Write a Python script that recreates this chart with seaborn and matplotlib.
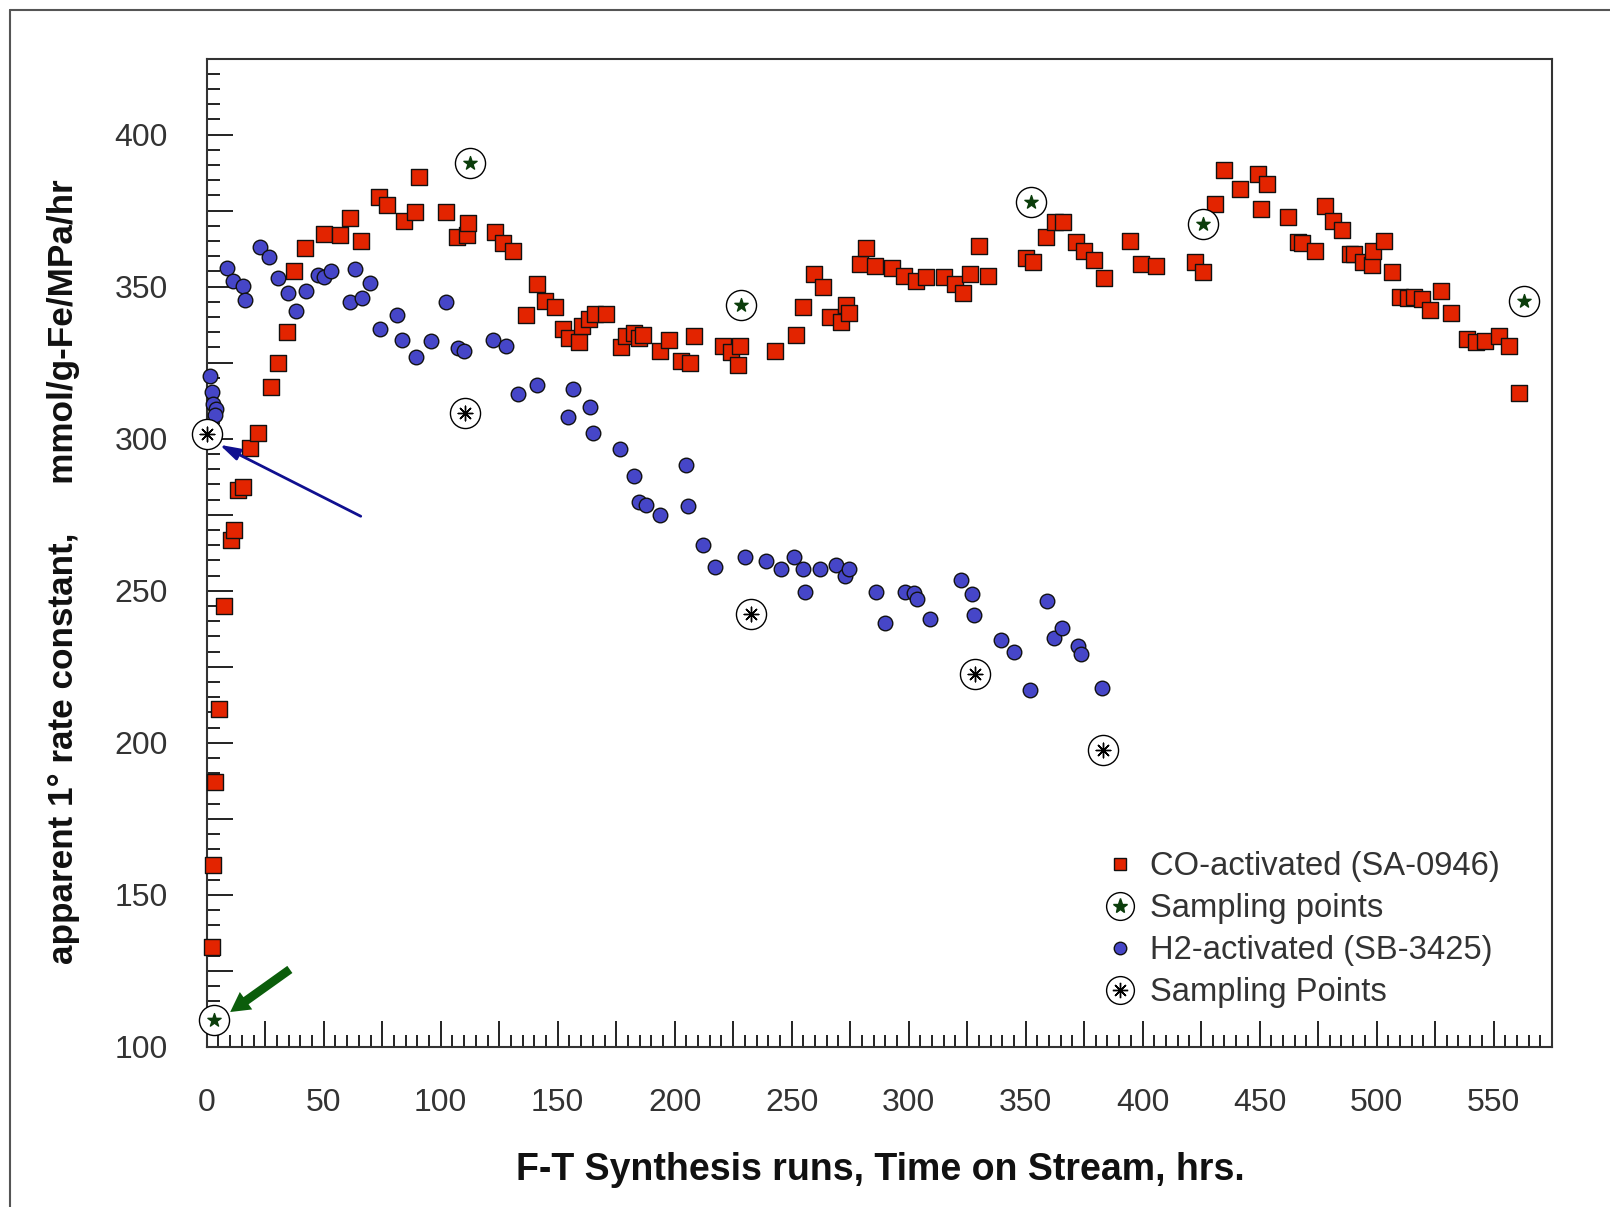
import numpy as np
import pandas as pd
import seaborn as sns
import matplotlib
matplotlib.use("Agg")
import matplotlib.pyplot as plt
from matplotlib.lines import Line2D
from matplotlib.ticker import MultipleLocator, FuncFormatter
from matplotlib.legend_handler import HandlerTuple

# CO-activated catalyst (SA-0946): time on stream (hrs) and rate constant
co_x = [2.2, 2.6, 3.5, 5.3, 7.5, 10.5, 11.8, 13.2, 15.4, 18.4, 21.9, 27.6, 30.3, 34.2,
        37.3, 42.1, 50.0, 57.0, 61.4, 65.8, 73.7, 77.2, 84.2, 89.0, 90.8, 102.2, 107.0,
        111.4, 111.8, 123.2, 126.8, 130.7, 136.4, 141.2, 144.7, 148.7, 152.2, 154.8,
        159.2, 160.5, 163.2, 165.8, 170.6, 177.2, 179.0, 182.5, 184.6, 186.4, 193.9,
        197.4, 202.6, 206.6, 208.3, 220.6, 224.1, 227.2, 228.1, 243.0, 251.8, 254.8,
        259.6, 263.2, 266.2, 271.0, 273.2, 274.6, 279.4, 281.6, 285.6, 293.0, 297.9,
        303.1, 307.5, 315.0, 319.8, 323.3, 326.4, 329.9, 333.9, 350.1, 353.2, 358.9,
        362.4, 365.9, 371.6, 375.1, 379.1, 383.5, 394.8, 399.3, 405.9, 422.6, 425.7,
        430.9, 434.9, 441.5, 449.4, 450.7, 453.3, 462.1, 466.5, 468.3, 473.5, 477.9,
        481.5, 485.4, 488.5, 490.2, 494.2, 498.2, 498.6, 503.0, 506.5, 510.0, 513.6,
        516.2, 519.3, 522.8, 527.6, 532.0, 538.6, 542.5, 546.5, 552.2, 556.6, 561.0]
co_y = [133.0, 160.0, 187.0, 211.0, 245.0, 266.8, 270.0, 283.0, 284.0, 297.0, 302.0,
        317.0, 325.0, 335.0, 355.0, 362.8, 367.4, 367.0, 372.5, 365.0, 379.5, 376.8,
        371.5, 374.5, 386.2, 374.5, 366.4, 367.0, 371.0, 367.8, 364.4, 361.7, 340.6,
        350.7, 345.3, 343.3, 336.2, 333.2, 331.9, 337.2, 339.3, 341.0, 341.0, 330.2,
        333.9, 334.9, 333.2, 334.2, 328.9, 332.6, 325.5, 324.8, 333.6, 330.5, 328.5,
        324.2, 330.5, 328.9, 334.2, 343.3, 354.0, 350.0, 339.9, 338.3, 344.0, 341.3,
        357.4, 362.8, 356.7, 356.0, 353.4, 351.7, 353.0, 353.0, 350.7, 348.0, 354.0,
        363.4, 353.4, 359.4, 358.1, 366.4, 371.1, 371.1, 364.8, 361.7, 358.7, 352.7,
        365.1, 357.4, 356.7, 358.1, 354.7, 377.2, 388.3, 382.2, 386.9, 375.5, 383.6,
        372.8, 364.8, 364.4, 361.7, 376.5, 371.5, 368.5, 360.7, 360.7, 358.1, 357.0,
        361.7, 365.1, 354.7, 346.6, 346.3, 346.6, 346.0, 342.3, 348.7, 341.3, 332.9,
        331.9, 332.2, 333.6, 330.5, 315.1]

# H2-activated catalyst (SB-3425)
h2_x = [1.2, 2.2, 2.6, 3.9, 3.5, 8.6, 11.4, 15.4, 16.2, 22.8, 26.8, 30.3, 34.7, 38.2,
        42.6, 47.4, 50.0, 53.1, 61.4, 63.2, 66.3, 69.8, 74.2, 81.2, 83.4, 89.5, 95.7,
        102.2, 107.5, 110.1, 122.4, 127.7, 133.0, 141.3, 154.5, 156.6, 163.7, 165.0,
        176.8, 182.5, 184.6, 187.7, 193.9, 204.8, 205.8, 211.9, 217.2, 229.9, 239.2,
        245.3, 251.0, 254.9, 255.8, 262.0, 269.0, 272.6, 274.7, 286.1, 290.0, 298.3,
        302.2, 303.5, 309.2, 322.4, 327.2, 328.1, 339.5, 345.2, 351.8, 359.2, 362.3,
        365.4, 372.4, 373.7, 382.5]
h2_y = [320.5, 315.4, 311.4, 309.7, 307.7, 356.0, 351.7, 350.3, 345.6, 363.1, 359.7,
        352.7, 348.0, 342.0, 348.7, 353.7, 353.0, 355.0, 345.0, 355.7, 346.3, 351.3,
        336.2, 340.6, 332.6, 326.8, 332.2, 345.0, 329.9, 328.9, 332.6, 330.5, 314.8,
        317.8, 307.0, 316.4, 310.4, 302.0, 296.6, 287.6, 279.2, 278.2, 274.8, 291.3,
        277.9, 265.1, 257.7, 261.1, 259.7, 257.0, 261.1, 257.0, 249.7, 257.0, 258.4,
        255.0, 257.0, 249.7, 239.3, 249.7, 249.3, 247.3, 240.6, 253.7, 249.0, 242.0,
        233.9, 229.9, 217.4, 246.6, 234.6, 237.6, 231.9, 229.2, 218.1]

# Sampling points for each run
co_samp_x = [3.1, 112.3, 228.5, 352.4, 425.7, 563.0]
co_samp_y = [109.0, 390.6, 344.0, 377.9, 370.5, 345.3]
h2_samp_x = [0.0, 110.5, 232.5, 328.5, 383.0]
h2_samp_y = [301.7, 308.4, 242.3, 222.5, 197.7]

legend_labels = ["CO-activated (SA-0946)", "Sampling points",
                 "H2-activated (SB-3425)", "Sampling Points"]

sns.set_theme(style="white")
plt.rcParams["font.family"] = ["Liberation Sans", "DejaVu Sans"]

W, H = 1610, 1207
fig = plt.figure(figsize=(W / 100, H / 100), dpi=100)
fig.patch.set_facecolor("white")
left, right, top, bottom = 206.8, 1552.0, 58.5, 1047.0
ax = fig.add_axes([left / W, 1 - bottom / H, (right - left) / W, (bottom - top) / H])

red = "#e32400"
blue = "#4646c8"
star_green = "#0b3d0b"

co_df = pd.DataFrame({"t": co_x, "k": co_y})
h2_df = pd.DataFrame({"t": h2_x, "k": h2_y})
cos_df = pd.DataFrame({"t": co_samp_x, "k": co_samp_y})
h2s_df = pd.DataFrame({"t": h2_samp_x, "k": h2_samp_y})

sns.scatterplot(data=h2_df, x="t", y="k", ax=ax, marker="o", s=110, color=blue,
                edgecolor="#111111", linewidth=1.0, zorder=3, clip_on=False, legend=False)
sns.scatterplot(data=co_df, x="t", y="k", ax=ax, marker="s", s=140, color=red,
                edgecolor="#111111", linewidth=1.0, zorder=4, clip_on=False, legend=False)

# sampling markers: open circle with a star (CO) or asterisk (H2)
for df, inner, icol, isz in [(cos_df, "*", star_green, 100), (h2s_df, (8, 2, 0), "black", 110)]:
    sns.scatterplot(data=df, x="t", y="k", ax=ax, marker="o", s=470, facecolor="white",
                    edgecolor="black", linewidth=1.0, zorder=5, clip_on=False, legend=False)
    sns.scatterplot(data=df, x="t", y="k", ax=ax, marker=inner, s=isz, color=icol,
                    edgecolor=icol, linewidth=1.0, zorder=6, clip_on=False, legend=False)

ax.set_xlim(0, 575)
ax.set_ylim(100, 425)
ax.set_xlabel("")
ax.set_ylabel("")

# arrows pointing to the initial sampling points
ax.annotate("", xy=(5.5, 298.0), xytext=(65.8, 274.5),
            arrowprops=dict(arrowstyle="-|>,head_length=1.0,head_width=0.3",
                            color="#101090", lw=2.0, shrinkA=0, shrinkB=0), zorder=7)
ax.annotate("", xy=(10.0, 111.5), xytext=(35.5, 125.5),
            arrowprops=dict(arrowstyle="simple,head_length=1.0,head_width=1.1,tail_width=0.45",
                            color="#0b5d0b", lw=0, shrinkA=0, shrinkB=0, mutation_scale=14),
            zorder=7)

# axes styling
for side in ["left", "bottom", "right", "top"]:
    ax.spines[side].set_color("#333333")
    ax.spines[side].set_linewidth(1.5)
ax.xaxis.set_major_locator(MultipleLocator(25))
ax.xaxis.set_minor_locator(MultipleLocator(5))
ax.yaxis.set_major_locator(MultipleLocator(25))
ax.yaxis.set_minor_locator(MultipleLocator(5))
fmt = FuncFormatter(lambda v, p: f"{int(round(v))}" if round(v) % 50 == 0 else "")
ax.xaxis.set_major_formatter(fmt)
ax.yaxis.set_major_formatter(fmt)
ax.tick_params(which="both", direction="in", color="#111111", width=1.3,
               left=True, bottom=True, right=False, top=False)
ax.tick_params(which="major", length=18.5, labelsize=23, labelcolor="#333333")
ax.tick_params(which="minor", length=9)
ax.tick_params(axis="x", which="major", pad=29.5)
ax.tick_params(axis="y", which="major", pad=28)

fig.text(64 / W, 1 - 572 / H, "apparent 1\u00b0 rate constant,     mmol/g-Fe/MPa/hr",
         rotation=90, ha="center", va="center", fontsize=25.3, fontweight="bold",
         color="#111111")
fig.text(880 / W, 1 - 1170 / H, "F-T Synthesis runs, Time on Stream, hrs.",
         ha="center", va="center", fontsize=27, fontweight="bold", color="#111111")

# legend
h_co = Line2D([], [], ls="none", marker="s", ms=9, mfc=red, mec="#111111", mew=1)
h_h2 = Line2D([], [], ls="none", marker="o", ms=9, mfc=blue, mec="#111111", mew=1)
c1 = Line2D([], [], ls="none", marker="o", ms=20, mfc="white", mec="black", mew=1)
s1 = Line2D([], [], ls="none", marker="*", ms=11, mfc=star_green, mec=star_green)
c2 = Line2D([], [], ls="none", marker="o", ms=20, mfc="white", mec="black", mew=1)
s2 = Line2D([], [], ls="none", marker=(8, 2, 0), ms=11, mfc="black", mec="black", mew=1)
leg = fig.legend([h_co, (c1, s1), h_h2, (c2, s2)], legend_labels,
                 handler_map={tuple: HandlerTuple(ndivide=1)},
                 loc="upper left", bbox_to_anchor=(1107 / W, 1 - 851 / H),
                 frameon=False, fontsize=23.6, labelspacing=0.34, handlelength=0.8,
                 handletextpad=0.52, borderpad=0, borderaxespad=0)
for t in leg.get_texts():
    t.set_color("#333333")

# outer frame lines along the top and left edges
fig.add_artist(Line2D([10 / W, 10 / W], [0, 1 - 10 / H], color="#555555", lw=1.5,
                      transform=fig.transFigure))
fig.add_artist(Line2D([10 / W, 1], [1 - 10 / H, 1 - 10 / H], color="#555555", lw=1.5,
                      transform=fig.transFigure))

fig.savefig("out.png", dpi=100)
